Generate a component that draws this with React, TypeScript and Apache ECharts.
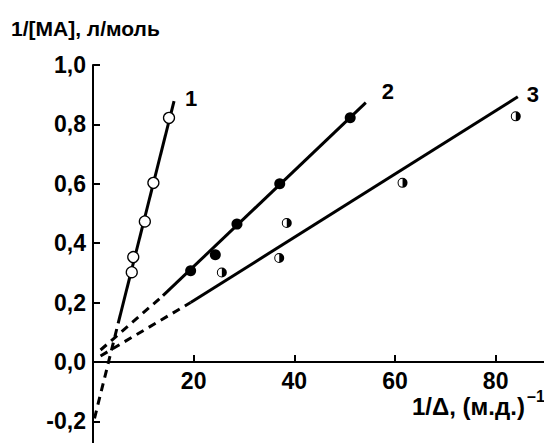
import React, { useEffect, useRef } from "react";
import * as echarts from "echarts";

// Tick values
const xTickValues = [20, 40, 60, 80];
const yTickValues = [-0.2, 0, 0.2, 0.4, 0.6, 0.8, 1.0];

// Series 1 (open circles)
const x1 = [15.1, 12.0, 10.3, 8.0, 7.7];
const y1 = [0.822, 0.603, 0.473, 0.353, 0.302];
// Series 2 (filled circles)
const x2 = [19.4, 24.3, 28.6, 37.1, 51.1];
const y2 = [0.307, 0.361, 0.464, 0.6, 0.822];
// Series 3 (half-filled circles)
const x3 = [25.6, 37.0, 38.5, 61.5, 84.0];
const y3 = [0.301, 0.35, 0.468, 0.603, 0.827];

// Fitted lines (solid part and dashed extrapolation), [x, y]
const fit1Solid = [[5.0, 0.13], [16.1, 0.878]];
const fit1Dashed = [[0.3, -0.19], [5.0, 0.13]];
const fit2Solid = [[13.9, 0.223], [54.2, 0.873]];
const fit2Dashed = [[1.5, 0.04], [13.9, 0.223]];
const fit3Solid = [[19.4, 0.2], [84.4, 0.893]];
const fit3Dashed = [[1.5, 0.02], [19.4, 0.2]];

const lineLabels = ["1", "2", "3"];

const yTitle = "1/[МА], л/моль";
const xTitle = "1/Δ, (м.д.)";
const xTitleSup = "–1";

const Y_MIN = -0.28;
const Y_MAX = 1.0;

const FONT = "'Liberation Sans', Arial, sans-serif";
const HALF = "path://M10,0 A10,10 0 1,1 10,20 A10,10 0 1,1 10,0 Z M10,2 A8,8 0 0,0 10,18 Z";

function zip(xs: number[], ys: number[]) {
  return xs.map((x, i) => [x, ys[i]]);
}

export default function App() {
  const ref = useRef<HTMLDivElement>(null);
  useEffect(() => {
    document.body.style.margin = "0";
    const chart = echarts.init(ref.current!, null, { renderer: "svg" });
    const gridTop = 65;
    const gridH = 380;
    // distance from grid bottom up to y = 0
    const zeroOffset = -(gridH * (0 - Y_MIN)) / (Y_MAX - Y_MIN);
    const lineStyle = { color: "#000", width: 3 };
    const dashStyle = { color: "#000", width: 3, type: [8, 6] as any };
    const endLabel = (text: string, offset: number[]) => ({
      show: true,
      position: "right",
      formatter: text,
      offset,
      color: "#000",
      fontFamily: FONT,
      fontWeight: "bold",
      fontSize: 22,
    });
    const withLabel = (pts: number[][], text: string, offset: number[]) => [
      { value: pts[0], label: { show: false } },
      { value: pts[1], label: endLabel(text, offset) },
    ];
    const lineSeries = (data: any[], style: any) => ({
      type: "line",
      data,
      symbol: "circle",
      symbolSize: 0.01,
      showSymbol: true,
      itemStyle: { color: "rgba(0,0,0,0)" },
      lineStyle: style,
      silent: true,
      z: 2,
    });
    chart.setOption({
      animation: false,
      backgroundColor: "#fff",
      grid: { left: 93, top: gridTop, width: 453, height: gridH, outerBoundsMode: "none", containLabel: false },
      xAxis: {
        type: "value",
        min: 0,
        max: 90,
        position: "bottom",
        offset: zeroOffset,
        axisLine: { show: true, onZero: false, lineStyle: { color: "#000", width: 2 } },
        axisTick: {
          show: true,
          inside: true,
          length: 7,
          customValues: xTickValues,
          lineStyle: { color: "#000", width: 2 },
        },
        axisLabel: {
          customValues: xTickValues,
          color: "#000",
          fontFamily: FONT,
          fontWeight: "bold",
          fontSize: 23,
          lineHeight: 20,
          margin: 9,
        },
        splitLine: { show: false },
      },
      yAxis: {
        type: "value",
        min: Y_MIN,
        max: Y_MAX,
        axisLine: { show: true, onZero: false, lineStyle: { color: "#000", width: 2 } },
        axisTick: {
          show: true,
          inside: true,
          length: 7,
          customValues: yTickValues,
          lineStyle: { color: "#000", width: 2 },
        },
        axisLabel: {
          customValues: yTickValues,
          color: "#000",
          fontFamily: FONT,
          fontWeight: "bold",
          fontSize: 23,
          margin: 7,
          formatter: (v: number) => v.toFixed(1).replace(".", ","),
        },
        splitLine: { show: false },
      },
      series: [
        lineSeries(fit1Dashed, dashStyle),
        lineSeries(fit2Dashed, dashStyle),
        lineSeries(fit3Dashed, dashStyle),
        lineSeries(withLabel(fit1Solid, lineLabels[0], [6, -3]), lineStyle),
        lineSeries(withLabel(fit2Solid, lineLabels[1], [11, -11]), lineStyle),
        lineSeries(withLabel(fit3Solid, lineLabels[2], [4, -2]), lineStyle),
        {
          type: "scatter",
          data: zip(x1, y1),
          symbol: "circle",
          symbolSize: 11,
          itemStyle: { color: "#fff", borderColor: "#000", borderWidth: 1.3, opacity: 1 },
          z: 5,
          silent: true,
        },
        {
          type: "scatter",
          data: zip(x2, y2),
          symbol: "circle",
          symbolSize: 11,
          itemStyle: { color: "#000", opacity: 1 },
          z: 5,
          silent: true,
        },
        {
          type: "scatter",
          data: zip(x3, y3),
          symbol: "circle",
          symbolSize: 10,
          itemStyle: { color: "#fff", opacity: 1 },
          z: 5,
          silent: true,
        },
        {
          type: "scatter",
          data: zip(x3, y3),
          symbol: HALF,
          symbolSize: 10,
          itemStyle: { color: "#000", opacity: 1 },
          z: 6,
          silent: true,
        },
      ],
      graphic: [
        {
          type: "text",
          left: 11,
          top: 18,
          style: {
            text: yTitle,
            fill: "#000",
            font: `bold 21px ${FONT}`,
          },
        },
        {
          type: "text",
          left: 412,
          top: 394,
          style: {
            text: xTitle,
            fill: "#000",
            font: `bold 24px ${FONT}`,
          },
        },
        {
          type: "text",
          left: 527,
          top: 388,
          style: {
            text: xTitleSup,
            fill: "#000",
            font: `bold 16px ${FONT}`,
          },
        },
      ],
    });
    return () => chart.dispose();
  }, []);
  return <div ref={ref} style={{ width: 544, height: 443 }} />;
}
